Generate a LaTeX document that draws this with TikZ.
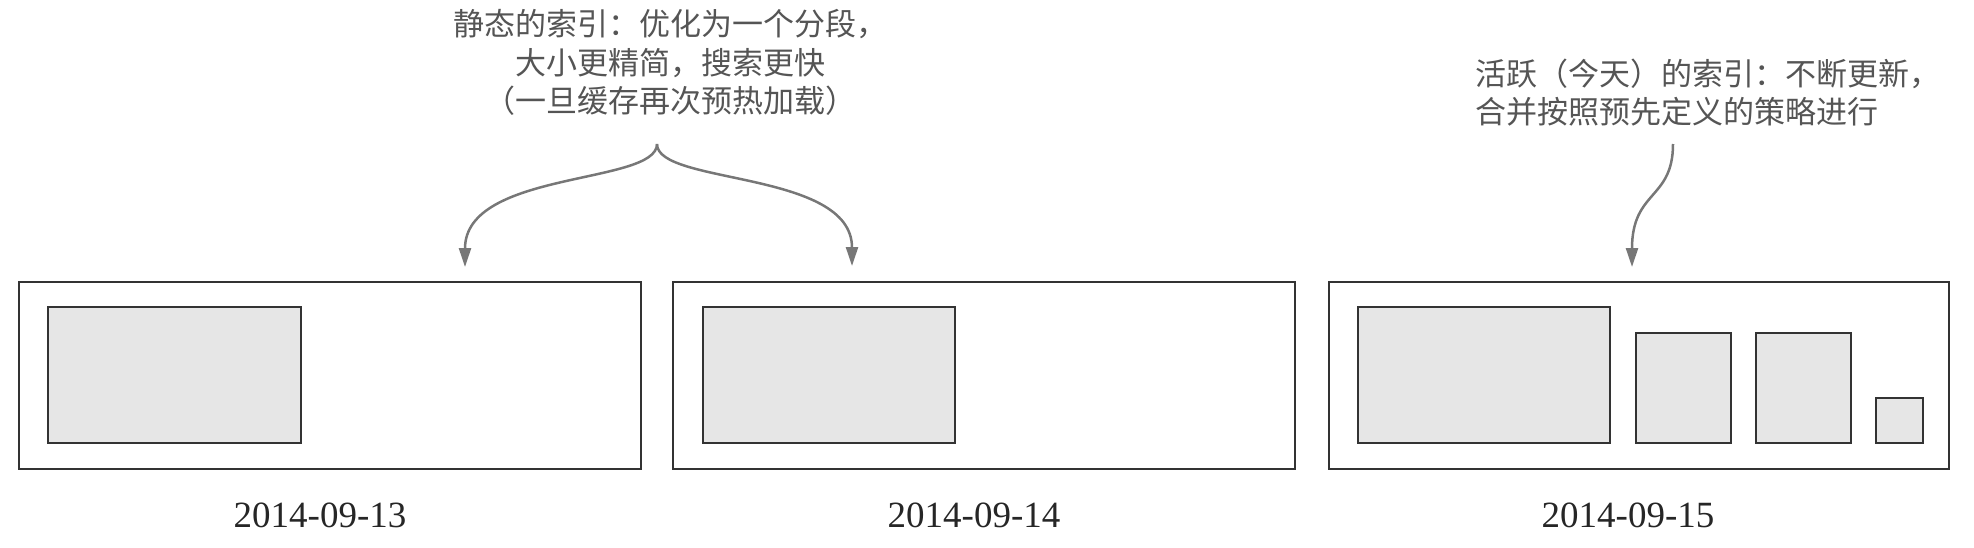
\documentclass[tikz,border=0pt]{standalone}
\usepackage{fontspec}
\setmainfont{Liberation Serif}
\newfontfamily\cjk{Noto Sans CJK SC}
\usetikzlibrary{arrows.meta}
\definecolor{linegray}{HTML}{333333}
\definecolor{segfill}{HTML}{E6E6E6}
\definecolor{txtgray}{HTML}{555555}
\definecolor{arrgray}{HTML}{777777}
\tikzset{
  dayframe/.style={draw=linegray, line width=2pt, fill=white, inner sep=0pt},
  segment/.style={draw=linegray, line width=2.5pt, fill=segfill, inner sep=0pt},
  datelabel/.style={font=\fontsize{37}{40}\selectfont, text=black!85, inner sep=0pt},
  note/.style={font=\cjk\fontsize{31}{38.5}\selectfont, text=txtgray, inner sep=0pt},
  pointer/.style={draw=arrgray, line width=2.5pt, -{Triangle[length=19pt,width=12pt]}}
}
\begin{document}
\begin{tikzpicture}[x=1pt,y=-1pt]
\useasboundingbox (0,0) rectangle (1974,547);
% day frames
\node[dayframe, minimum width=622pt, minimum height=187pt] (d13) at (330,375.5) {};
\node[dayframe, minimum width=622pt, minimum height=187pt] (d14) at (984,375.5) {};
\node[dayframe, minimum width=620pt, minimum height=187pt] (d15) at (1639,375.5) {};
% segments
\node[segment, minimum width=253pt, minimum height=136pt] (s13) at (174.5,375) {};
\node[segment, minimum width=252pt, minimum height=136pt] (s14) at (829,375) {};
\node[segment, minimum width=252pt, minimum height=136pt] (s15a) at (1484,375) {};
\node[segment, minimum width=95pt, minimum height=110pt] (s15b) at (1683.5,388) {};
\node[segment, minimum width=95pt, minimum height=110pt] (s15c) at (1803.5,388) {};
\node[segment, minimum width=47pt, minimum height=45pt] (s15d) at (1899.5,420.5) {};
% date labels
\node[datelabel] (l13) at (320,515) {2014-09-13};
\node[datelabel] (l14) at (974,515) {2014-09-14};
\node[datelabel] (l15) at (1628,515) {2014-09-15};
% notes
\node[note, align=center] (statictxt) at (670,62.5) {静态的索引：优化为一个分段，\\大小更精简，搜索更快\\（一旦缓存再次预热加载）};
\node[note, align=left, anchor=west] (activetxt) at (1475,92.5) {活跃（今天）的索引：不断更新，\\合并按照预先定义的策略进行};
% connector ends
\coordinate (cusp) at (657,144);
\coordinate (tip13) at (465,267);
\coordinate (tip14) at (852,266);
\coordinate (astart) at (1673,144);
\coordinate (tip15) at (1632,267);
\draw[pointer] (cusp) .. controls (657,185) and (465,170) .. (tip13);
\draw[pointer] (cusp) .. controls (657,185) and (852,170) .. (tip14);
\draw[pointer] (astart) .. controls (1673,200) and (1632,190) .. (tip15);
\end{tikzpicture}
\end{document}
